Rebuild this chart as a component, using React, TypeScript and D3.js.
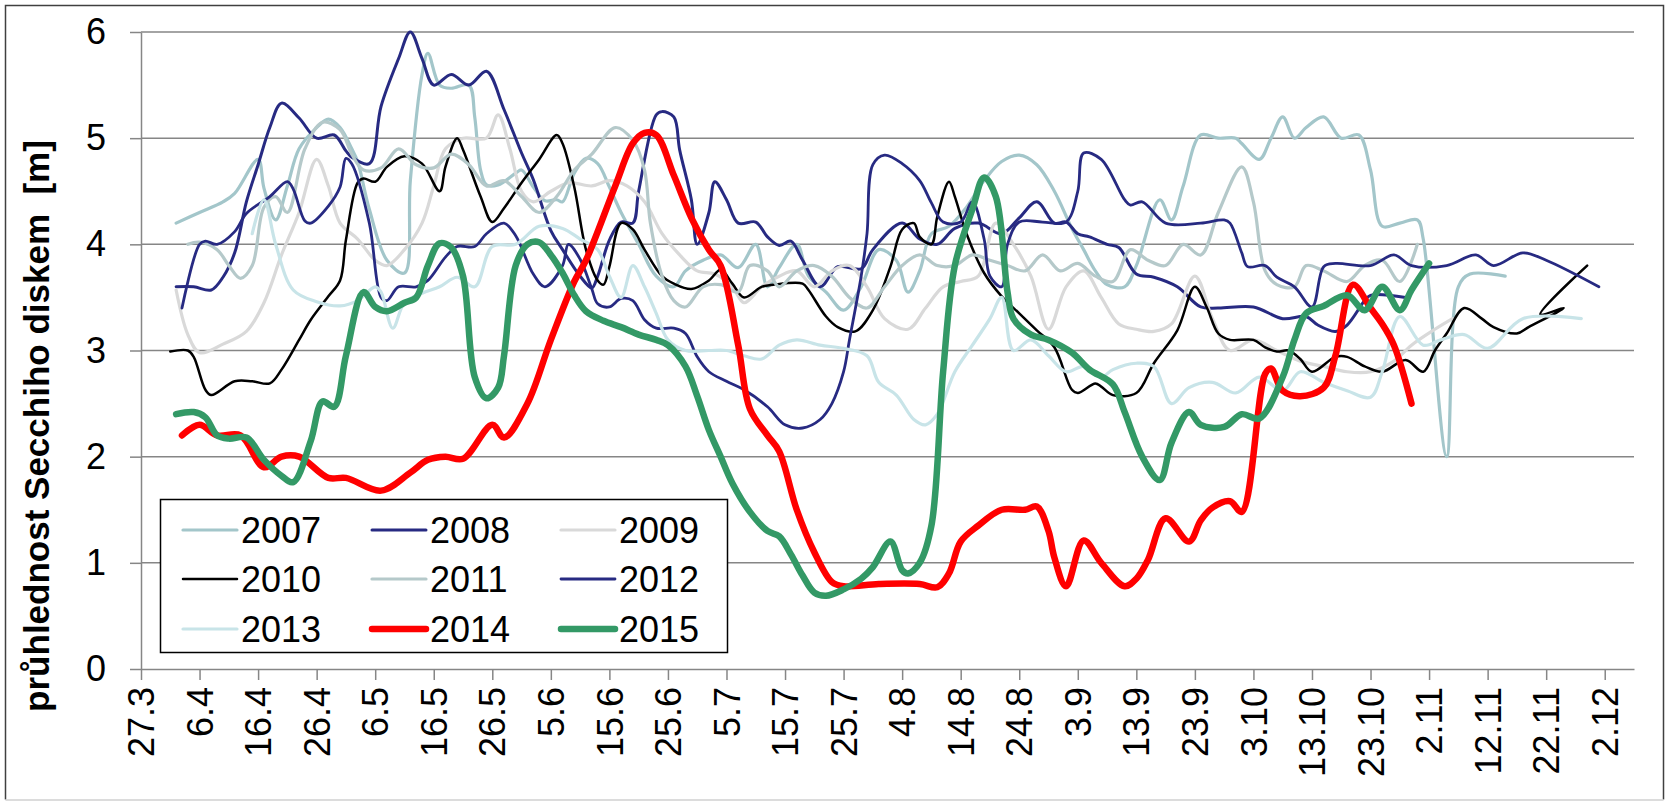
import React, { useEffect, useRef } from 'react'
import * as d3 from 'd3'

const years = ['2007', '2008', '2009', '2010', '2011', '2012', '2013', '2014', '2015']
const colors = ['#a3c6ca', '#272a82', '#d9d9d9', '#000000', '#b5c9ca', '#272a82', '#c8e4e8', '#ff0000', '#339966']
const widths = [3.2, 3, 3.2, 2.5, 3.2, 2.8, 3.2, 6.5, 6.5]

const dateTicks = ['27.3', '6.4', '16.4', '26.4', '6.5', '16.5', '26.5', '5.6', '15.6', '25.6', '5.7', '15.7', '25.7',
  '4.8', '14.8', '24.8', '3.9', '13.9', '23.9', '3.10', '13.10', '23.10', '2.11', '12.11', '22.11', '2.12']
const valueTicks = [0, 1, 2, 3, 4, 5, 6]

const s2007 = [['2.4',4.2],['6.4',4.3],['10.4',4.4],['12.4',4.48],['16.4',4.8],['17.4',4.53],['19.4',4.23],['21.4',4.55],['23.4',4.9],['26.4',5.1],['28.4',5.18],['30.4',5.1],['2.5',4.9],['3.5',4.78],['5.5',4.33],['8.5',3.85],['11.5',3.73],['12.5',4.6],['14.5',5.6],['15.5',5.8],['17.5',5.5],['19.5',5.47],['22.5',5.5],['23.5',5.2],['24.5',4.7],['25.5',4.56],['27.5',4.56],['30.5',4.67],['31.5',4.7],['2.6',4.54],['4.6',4.41],['6.6',4.42],['7.6',4.4],['9.6',4.67],['11.6',4.81],['13.6',4.76],['15.6',4.54],['17.6',4.3],['20.6',4.0],['23.6',3.7],['26.6',3.6],['28.6',3.75],['1.7',3.85],['4.7',3.9],['7.7',3.78],['10.7',4.0],['12.7',3.6],['14.7',3.78],['17.7',4.0],['19.7',3.7],['22.7',3.55],['25.7',3.38],['28.7',3.6],['31.7',3.95],['3.8',3.85],['5.8',3.55],['7.8',3.75],['9.8',4.1],['12.8',4.17],['15.8',4.35],['18.8',4.6],['21.8',4.78],['24.8',4.84],['27.8',4.75],['30.8',4.5],['2.9',4.15],['4.9',3.95],['6.9',3.75],['8.9',3.62],['11.9',3.6],['13.9',3.8],['17.9',4.42],['19.9',4.23],['21.9',4.55],['24.9',5.03],['27.9',5.0],['30.9',5.0],['1.10',4.95],['4.10',4.8],['6.10',5.0],['8.10',5.2],['10.10',5.0],['12.10',5.1],['15.10',5.2],['18.10',5.0],['21.10',5.03],['23.10',4.7],['25.10',4.17],['28.10',4.2],['31.10',4.23],['1.11',4.05],['5.11',2.0],['7.11',3.6],['9.11',3.72],['15.11',3.7]]

const s2008 = [['2.4',3.6],['5.4',3.6],['8.4',3.57],['10.4',3.69],['12.4',3.92],['14.4',4.4],['16.4',4.75],['18.4',5.1],['20.4',5.33],['23.4',5.19],['26.4',5.0],['29.4',5.03],['1.5',4.88],['2.5',4.82],['5.5',4.76],['7.5',5.3],['10.5',5.75],['12.5',6.0],['14.5',5.75],['16.5',5.5],['19.5',5.6],['22.5',5.5],['25.5',5.63],['28.5',5.27],['31.5',4.86],['2.6',4.61],['5.6',4.13],['7.6',3.95],['10.6',3.7],['12.6',3.59],['13.6',3.7],['15.6',4.04],['17.6',4.21],['19.6',4.2],['20.6',4.5],['23.6',5.22],['24.6',5.25],['26.6',5.2],['27.6',4.89],['29.6',4.42],['30.6',4.0],['2.7',4.3],['3.7',4.59],['5.7',4.42],['7.7',4.2],['10.7',4.21],['12.7',4.07],['14.7',3.99],['16.7',4.03],['18.7',3.85],['21.7',3.6],['24.7',3.79],['28.7',3.77],['30.7',3.95],['4.8',4.2],['7.8',4.05],['10.8',4.0],['13.8',4.15],['17.8',4.2],['21.8',4.1],['24.8',4.25],['27.8',4.4],['30.8',4.2],['1.9',4.21],['3.9',4.1],['5.9',4.07],['8.9',4.0],['10.9',3.97],['13.9',3.72],['16.9',3.69],['20.9',3.6],['24.9',3.41],['27.9',3.4],['3.10',3.41],['8.10',3.3],['12.10',3.32],['14.10',3.24],['17.10',3.18],['19.10',3.24],['22.10',3.47],['23.10',3.52],['29.10',3.5]]

const s2009 = [['2.4',3.57],['4.4',3.15],['6.4',2.98],['10.4',3.06],['14.4',3.18],['17.4',3.45],['20.4',3.9],['23.4',4.3],['26.4',4.8],['28.4',4.55],['30.4',4.2],['3.5',4.05],['6.5',3.85],['8.5',3.8],['11.5',3.95],['14.5',4.2],['16.5',4.55],['18.5',4.9],['21.5',5.0],['25.5',5.0],['27.5',5.22],['29.5',4.9],['31.5',4.5],['2.6',4.4],['5.6',4.5],['8.6',4.58],['12.6',4.55],['15.6',4.6],['18.6',4.55],['21.6',4.4],['24.6',4.1],['27.6',3.9],['30.6',3.75],['3.7',3.72],['6.7',3.6],['8.7',3.45],['11.7',3.6],['14.7',3.7],['17.7',3.75],['20.7',3.6],['23.7',3.75],['26.7',3.8],['29.7',3.6],['1.8',3.3],['5.8',3.2],['8.8',3.4],['11.8',3.6],['14.8',3.65],['17.8',3.7],['20.8',4.2],['23.8',4.0],['26.8',3.7],['29.8',3.2],['1.9',3.6],['4.9',3.75],['7.9',3.5],['10.9',3.25],['13.9',3.2],['16.9',3.18],['19.9',3.25],['23.9',3.7],['26.9',3.3],['29.9',3.0],['3.10',3.1],['7.10',3.0],['11.10',2.9],['15.10',2.85],['19.10',2.8],['23.10',2.8],['27.10',2.9],['30.10',3.05],['3.11',3.2],['6.11',3.3]]

const s2010 = [['1.4',2.99],['4.4',3.0],['5.4',2.94],['7.4',2.63],['8.4',2.58],['12.4',2.71],['15.4',2.71],['18.4',2.69],['20.4',2.82],['23.4',3.1],['25.4',3.29],['28.4',3.51],['30.4',3.66],['1.5',4.04],['3.5',4.58],['4.5',4.62],['6.5',4.59],['8.5',4.73],['11.5',4.83],['14.5',4.76],['17.5',4.5],['18.5',4.73],['20.5',5.0],['21.5',4.89],['24.5',4.45],['26.5',4.21],['28.5',4.34],['31.5',4.58],['3.6',4.8],['6.6',5.03],['7.6',4.95],['9.6',4.54],['11.6',3.95],['13.6',3.66],['14.6',3.62],['15.6',3.79],['17.6',4.2],['19.6',4.14],['21.6',3.95],['24.6',3.7],['26.6',3.63],['29.6',3.58],['2.7',3.66],['4.7',3.76],['6.7',3.63],['8.7',3.5],['11.7',3.6],['13.7',3.62],['18.7',3.63],['19.7',3.57],['22.7',3.32],['24.7',3.22],['27.7',3.18],['30.7',3.38],['2.8',3.79],['4.8',4.14],['6.8',4.2],['7.8',4.07],['9.8',4.0],['10.8',4.26],['12.8',4.59],['13.8',4.45],['15.8',4.1],['18.8',3.73],['21.8',3.51],['24.8',3.35],['27.8',3.19],['30.8',3.03],['2.9',2.63],['3.9',2.6],['6.9',2.69],['7.9',2.66],['9.9',2.58],['13.9',2.6],['16.9',2.88],['20.9',3.19],['23.9',3.6],['25.9',3.41],['27.9',3.16],['29.9',3.1],['3.10',3.1],['5.10',3.03],['7.10',2.99],['9.10',3.0],['11.10',2.92],['13.10',2.8],['17.10',2.94],['19.10',2.94],['22.10',2.85],['25.10',2.8],['29.10',2.91],['1.11',2.8],['3.11',3.0],['5.11',3.16],['8.11',3.4],['11.11',3.3],['13.11',3.22],['17.11',3.16],['19.11',3.22],['25.11',3.4],['21.11',3.34],['29.11',3.8]]

const s2011 = [['4.4',4.0],['6.4',4.02],['9.4',3.95],['11.4',3.8],['13.4',3.68],['15.4',3.8],['17.4',4.35],['19.4',4.45],['21.4',4.3],['24.4',4.9],['27.4',5.15],['30.4',5.08],['2.5',4.85],['4.5',4.7],['7.5',4.72],['10.5',4.9],['13.5',4.75],['16.5',4.72],['19.5',4.85],['22.5',4.75],['25.5',4.55],['28.5',4.6],['31.5',4.45],['3.6',4.3],['6.6',4.45],['9.6',4.7],['12.6',4.85],['16.6',5.1],['19.6',4.98],['21.6',4.7],['22.6',4.2],['24.6',3.7],['26.6',3.47],['28.6',3.41],['1.7',3.6],['4.7',3.62],['7.7',3.55],['9.7',3.8],['12.7',3.75],['14.7',3.6],['17.7',3.75],['20.7',3.8],['23.7',3.7],['26.7',3.5],['29.7',3.4],['1.8',3.6],['4.8',3.8],['7.8',3.9],['10.8',3.8],['13.8',3.8],['16.8',3.9],['19.8',3.85],['22.8',3.8],['25.8',3.75],['28.8',3.9],['31.8',3.75],['3.9',3.82],['6.9',3.7],['9.9',3.65],['12.9',3.95],['15.9',3.85],['18.9',3.8],['21.9',4.0],['24.9',3.9],['27.9',4.3],['1.10',4.73],['3.10',4.4],['5.10',3.75],['7.10',3.62],['10.10',3.6],['12.10',3.8],['15.10',3.75],['19.10',3.65],['22.10',3.8],['25.10',3.85],['28.10',3.65],['31.10',4.0]]

const s2012 = [['3.4',3.4],['6.4',4.0],['7.4',4.03],['9.4',4.0],['12.4',4.12],['14.4',4.29],['18.4',4.45],['21.4',4.59],['22.4',4.52],['24.4',4.22],['25.4',4.2],['28.4',4.36],['30.4',4.54],['1.5',4.81],['2.5',4.76],['5.5',4.2],['7.5',3.5],['8.5',3.47],['10.5',3.6],['13.5',3.6],['15.5',3.66],['18.5',3.88],['20.5',3.98],['23.5',3.98],['25.5',4.1],['28.5',4.2],['30.5',4.08],['2.6',3.72],['4.6',3.6],['7.6',3.8],['8.6',4.0],['10.6',3.86],['12.6',3.58],['13.6',3.44],['15.6',3.41],['17.6',3.49],['19.6',3.47],['21.6',3.29],['23.6',3.21],['26.6',3.21],['28.6',3.16],['30.6',2.94],['2.7',2.8],['5.7',2.71],['8.7',2.63],['12.7',2.47],['15.7',2.3],['18.7',2.27],['21.7',2.35],['23.7',2.5],['25.7',2.8],['26.7',3.1],['28.7',3.7],['29.7',4.1],['30.7',4.75],['1.8',4.84],['4.8',4.76],['7.8',4.6],['9.8',4.39],['11.8',4.21],['14.8',4.21],['16.8',4.4],['18.8',4.05],['19.8',3.7],['21.8',3.6],['22.8',4.0],['24.8',4.21],['28.8',4.21],['1.9',4.21],['3.9',4.5],['4.9',4.86],['7.9',4.8],['11.9',4.42],['12.9',4.37],['14.9',4.4],['18.9',4.2],['24.9',4.2],['28.9',4.23],['29.9',4.2],['1.10',3.92],['2.10',3.79],['5.10',3.8],['7.10',3.69],['10.10',3.6],['13.10',3.41],['15.10',3.79],['17.10',3.82],['23.10',3.8],['27.10',3.9],['30.10',3.8],['5.11',3.8],['10.11',3.9],['13.11',3.8],['18.11',3.92],['22.11',3.85],['1.12',3.6]]

const s2013 = [['15.4',4.1],['17.4',4.42],['19.4',4.0],['22.4',3.57],['26.4',3.46],['30.4',3.42],['3.5',3.47],['6.5',3.6],['7.5',3.55],['9.5',3.21],['11.5',3.45],['14.5',3.54],['17.5',3.6],['20.5',3.69],['23.5',3.6],['26.5',3.98],['30.5',4.0],['3.6',4.17],['7.6',4.15],['10.6',4.05],['13.6',3.95],['15.6',3.7],['17.6',3.5],['19.6',3.8],['21.6',3.6],['23.6',3.35],['25.6',3.1],['28.6',3.0],['2.7',3.0],['5.7',3.0],['8.7',2.95],['11.7',2.92],['14.7',3.05],['17.7',3.1],['21.7',3.05],['25.7',3.02],['29.7',2.95],['31.7',2.7],['3.8',2.58],['6.8',2.35],['8.8',2.3],['10.8',2.4],['13.8',2.8],['16.8',3.05],['19.8',3.3],['21.8',3.5],['23.8',3.0],['26.8',3.1],['29.8',2.95],['1.9',2.8],['4.9',2.85],['7.9',2.75],['9.9',2.82],['13.9',2.88],['16.9',2.85],['19.9',2.5],['22.9',2.65],['26.9',2.7],['30.9',2.6],['4.10',2.75],['8.10',2.62],['11.10',2.8],['15.10',2.7],['19.10',2.62],['23.10',2.56],['25.10',2.8],['28.10',3.32],['1.11',3.05],['4.11',3.1],['8.11',3.15],['12.11',3.02],['18.11',3.3],['28.11',3.3]]

const s2014 = [['3.4',2.2],['6.4',2.3],['9.4',2.2],['13.4',2.2],['17.4',1.9],['20.4',2.0],['23.4',2.0],['28.4',1.8],['1.5',1.8],['7.5',1.68],['12.5',1.85],['15.5',1.97],['18.5',2.0],['21.5',1.98],['26.5',2.3],['28.5',2.18],['1.6',2.5],['5.6',3.1],['9.6',3.65],['11.6',3.85],['16.6',4.55],['19.6',4.95],['21.6',5.05],['23.6',5.03],['26.6',4.65],['29.6',4.25],['2.7',3.95],['4.7',3.8],['7.7',3.05],['9.7',2.45],['12.7',2.2],['14.7',2.05],['17.7',1.5],['20.7',1.1],['23.7',0.82],['25.7',0.78],['31.7',0.8],['7.8',0.8],['10.8',0.77],['12.8',0.9],['14.8',1.2],['17.8',1.35],['21.8',1.5],['25.8',1.5],['27.8',1.53],['29.8',1.3],['30.8',1.05],['1.9',0.78],['4.9',1.21],['7.9',1.0],['11.9',0.78],['13.9',0.85],['15.9',1.03],['18.9',1.42],['22.9',1.2],['24.9',1.4],['26.9',1.52],['29.9',1.58],['1.10',1.48],['5.10',2.78],['6.10',2.83],['8.10',2.62],['11.10',2.57],['15.10',2.65],['17.10',2.95],['20.10',3.62],['23.10',3.4],['25.10',3.25],['27.10',3.05],['30.10',2.5]]

const s2015 = [['2.4',2.4],['5.4',2.42],['7.4',2.37],['9.4',2.2],['11.4',2.17],['14.4',2.18],['17.4',1.97],['20.4',1.82],['22.4',1.76],['25.4',2.15],['27.4',2.52],['29.4',2.47],['1.5',2.95],['4.5',3.55],['6.5',3.41],['8.5',3.37],['11.5',3.45],['13.5',3.5],['15.5',3.8],['17.5',4.01],['19.5',3.97],['21.5',3.7],['23.5',2.75],['25.5',2.55],['27.5',2.65],['28.5',2.95],['30.5',3.8],['1.6',4.0],['3.6',4.02],['5.6',3.9],['7.6',3.73],['9.6',3.52],['11.6',3.37],['14.6',3.28],['17.6',3.22],['20.6',3.15],['23.6',3.1],['25.6',3.05],['28.6',2.85],['30.6',2.57],['2.7',2.25],['4.7',2.0],['6.7',1.75],['9.7',1.48],['12.7',1.3],['14.7',1.25],['16.7',1.08],['18.7',0.88],['20.7',0.72],['22.7',0.69],['25.7',0.75],['28.7',0.85],['30.7',0.96],['2.8',1.2],['4.8',0.93],['5.8',0.9],['7.8',1.0],['9.8',1.35],['11.8',2.8],['13.8',3.8],['16.8',4.33],['18.8',4.63],['20.8',4.45],['22.8',3.55],['23.8',3.3],['26.8',3.15],['29.8',3.1],['2.9',2.98],['5.9',2.82],['9.9',2.68],['11.9',2.42],['14.9',2.0],['17.9',1.78],['19.9',2.13],['22.9',2.42],['24.9',2.3],['28.9',2.28],['1.10',2.4],['4.10',2.36],['8.10',2.75],['10.10',3.1],['12.10',3.35],['15.10',3.42],['19.10',3.52],['22.10',3.38],['25.10',3.6],['28.10',3.38],['30.10',3.57],['2.11',3.82]]

const seriesValues = [s2007, s2008, s2009, s2010, s2011, s2012, s2013, s2014, s2015]

const App = () => {
  const svgRef = useRef(null)
  const width = 1669
  const height = 806
  const plot = { left: 141, right: 1634, top: 32, bottom: 669 }
  const font = "'Liberation Sans', Arial, sans-serif"

  useEffect(() => {
    document.body.style.margin = '0'
    const svg = d3.select(svgRef.current)
    svg.selectAll('*').remove()

    const parse = d3.timeParse('%d.%m')
    const x = d3.scaleTime().domain([parse('27.3'), parse('7.12')]).range([plot.left, plot.right])
    const y = d3.scaleLinear().domain([0, 6]).range([plot.bottom, plot.top])

    // outer frame
    svg.append('rect').attr('x', 0).attr('y', 0).attr('width', width).attr('height', height).attr('fill', '#fff')
    svg.append('path')
      .attr('d', `M5.5,799.5 L5.5,5.5 L1663.5,5.5 L1663.5,799.5`)
      .attr('fill', 'none').attr('stroke', '#404040').attr('stroke-width', 1.5)
    svg.append('line').attr('x1', 5.5).attr('x2', 1663.5).attr('y1', 800).attr('y2', 800)
      .attr('stroke', '#d0d0d0').attr('stroke-width', 1.5)

    // grid
    svg.append('g').selectAll('line')
      .data(valueTicks.filter((d) => d > 0))
      .join('line')
      .attr('x1', plot.left).attr('x2', plot.right)
      .attr('y1', (d) => y(d)).attr('y2', (d) => y(d))
      .attr('stroke', '#868686').attr('stroke-width', 1.5)

    // y axis
    const yAxis = svg.append('g')
      .attr('transform', `translate(${plot.left},0)`)
      .call(d3.axisLeft(y).tickValues(valueTicks).tickSize(11).tickSizeOuter(0).tickPadding(24)
        .tickFormat(d3.format('d')))
    yAxis.select('path.domain').attr('stroke', '#868686').attr('stroke-width', 1.5)
    yAxis.selectAll('.tick line').attr('stroke', '#868686').attr('stroke-width', 1.5)
    yAxis.selectAll('.tick text').style('font-family', font).style('font-size', '36px').attr('fill', '#000')

    // x axis
    const xAxis = svg.append('g')
      .attr('transform', `translate(0,${plot.bottom})`)
      .call(d3.axisBottom(x).tickValues(dateTicks.map((d) => parse(d))).tickSize(11).tickSizeOuter(0)
        .tickFormat((d, i) => dateTicks[i]))
    xAxis.select('path.domain').attr('stroke', '#868686').attr('stroke-width', 1.5)
    xAxis.selectAll('.tick line').attr('stroke', '#868686').attr('stroke-width', 1.5)
    xAxis.selectAll('.tick text')
      .attr('transform', 'rotate(-90)')
      .attr('x', -18).attr('y', 0).attr('dy', '0.35em')
      .style('text-anchor', 'end')
      .style('font-family', font).style('font-size', '36px').attr('fill', '#000')

    // axis title
    svg.append('text')
      .attr('transform', 'translate(49,426) rotate(-90)')
      .attr('text-anchor', 'middle')
      .style('font-family', font).style('font-size', '35px').style('font-weight', 'bold')
      .style('white-space', 'pre')
      .text('průhlednost Secchiho diskem  [m]')

    // lines
    const line = d3.line()
      .x((d) => x(parse(d[0])))
      .y((d) => y(d[1]))
      .curve(d3.curveCatmullRom.alpha(0.5))

    svg.append('g').selectAll('path')
      .data(seriesValues)
      .join('path')
      .attr('d', (d) => line(d))
      .attr('fill', 'none')
      .attr('stroke', (d, i) => colors[i])
      .attr('stroke-width', (d, i) => widths[i])
      .attr('stroke-linejoin', 'round')
      .attr('stroke-linecap', 'round')

    // legend
    const legend = svg.append('g')
    legend.append('rect')
      .attr('x', 160.5).attr('y', 499.5).attr('width', 567).attr('height', 153)
      .attr('fill', '#fff').attr('stroke', '#000').attr('stroke-width', 1.5)
    const colX = [183, 372, 561]
    const rowY = [530, 579, 629]
    const items = legend.selectAll('g.item')
      .data(years)
      .join('g')
      .attr('class', 'item')
      .attr('transform', (d, i) => `translate(${colX[i % 3]},${rowY[Math.floor(i / 3)]})`)
    items.append('line')
      .attr('x1', 0).attr('x2', 54).attr('y1', 0).attr('y2', 0)
      .attr('stroke', (d, i) => colors[i])
      .attr('stroke-width', (d, i) => widths[i])
      .attr('stroke-linecap', 'round')
    items.append('text')
      .attr('x', 58).attr('dy', '0.36em')
      .style('font-family', font).style('font-size', '36px')
      .text((d) => d)
  }, [])

  return <svg ref={svgRef} width={width} height={height} style={{ display: 'block' }}></svg>
}

export default App
